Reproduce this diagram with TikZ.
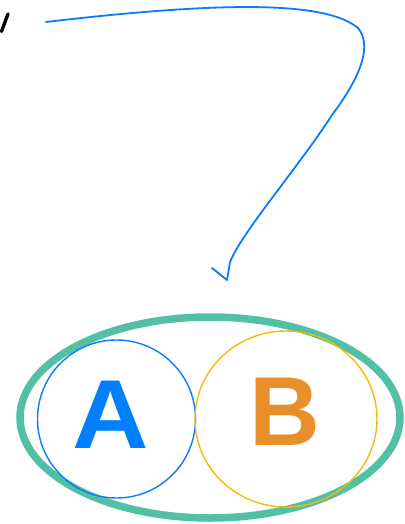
\documentclass[tikz,border=0pt]{standalone}
\usepackage{fontspec}
\setmainfont{Liberation Sans}
\usetikzlibrary{shapes.geometric}
\definecolor{lineblue}{RGB}{10,122,255}
\definecolor{setgreen}{RGB}{82,192,165}
\definecolor{setyellow}{RGB}{245,185,10}
\definecolor{letterblue}{RGB}{0,128,255}
\definecolor{letterorange}{RGB}{232,142,42}
\begin{document}
\begin{tikzpicture}[x=1pt,y=-1pt,
  setring/.style={draw=setgreen,line width=7.5pt,ellipse,inner sep=0pt},
  circA/.style={draw=lineblue,line width=1.4pt,circle,inner sep=0pt,minimum size=158pt},
  circB/.style={draw=setyellow,line width=1.4pt,ellipse,inner sep=0pt,minimum width=182pt,minimum height=176pt},
  bigletter/.style={font=\fontsize{98}{98}\selectfont\bfseries},
  curve/.style={draw=lineblue,line width=1.8pt,line cap=round,line join=round}]
\useasboundingbox (0,0) rectangle (404,524);
% outer set
\node[setring,minimum width=380pt,minimum height=201pt] (U) at (210,417.5) {};
% circles
\node[circA] (A) at (116.5,419) {};
\node[circB] (B) at (286,419) {};
% letters
\node[bigletter,text=letterblue,inner sep=0pt,xscale=1.08] (LA) at (111,415) {A};
\node[bigletter,text=letterorange,inner sep=0pt] (LB) at (285,412) {B};
% mark at top left
\coordinate (m1) at (8,14);
\coordinate (m2) at (1.5,31.5);
\draw[line width=3.3pt,line cap=round] (m1) -- (m2);
% hand drawn arrow
\coordinate (s) at (46,22);
\coordinate (t) at (227,280);
\coordinate (h) at (212,268);
\draw[curve] (s) .. controls (250,-2) and (330,5) .. (358,28)
  .. controls (372,45) and (362,75) .. (332,115)
  .. controls (300,165) and (242,232) .. (230,262) -- (t);
\draw[curve] (h) -- (t);
\end{tikzpicture}
\end{document}
